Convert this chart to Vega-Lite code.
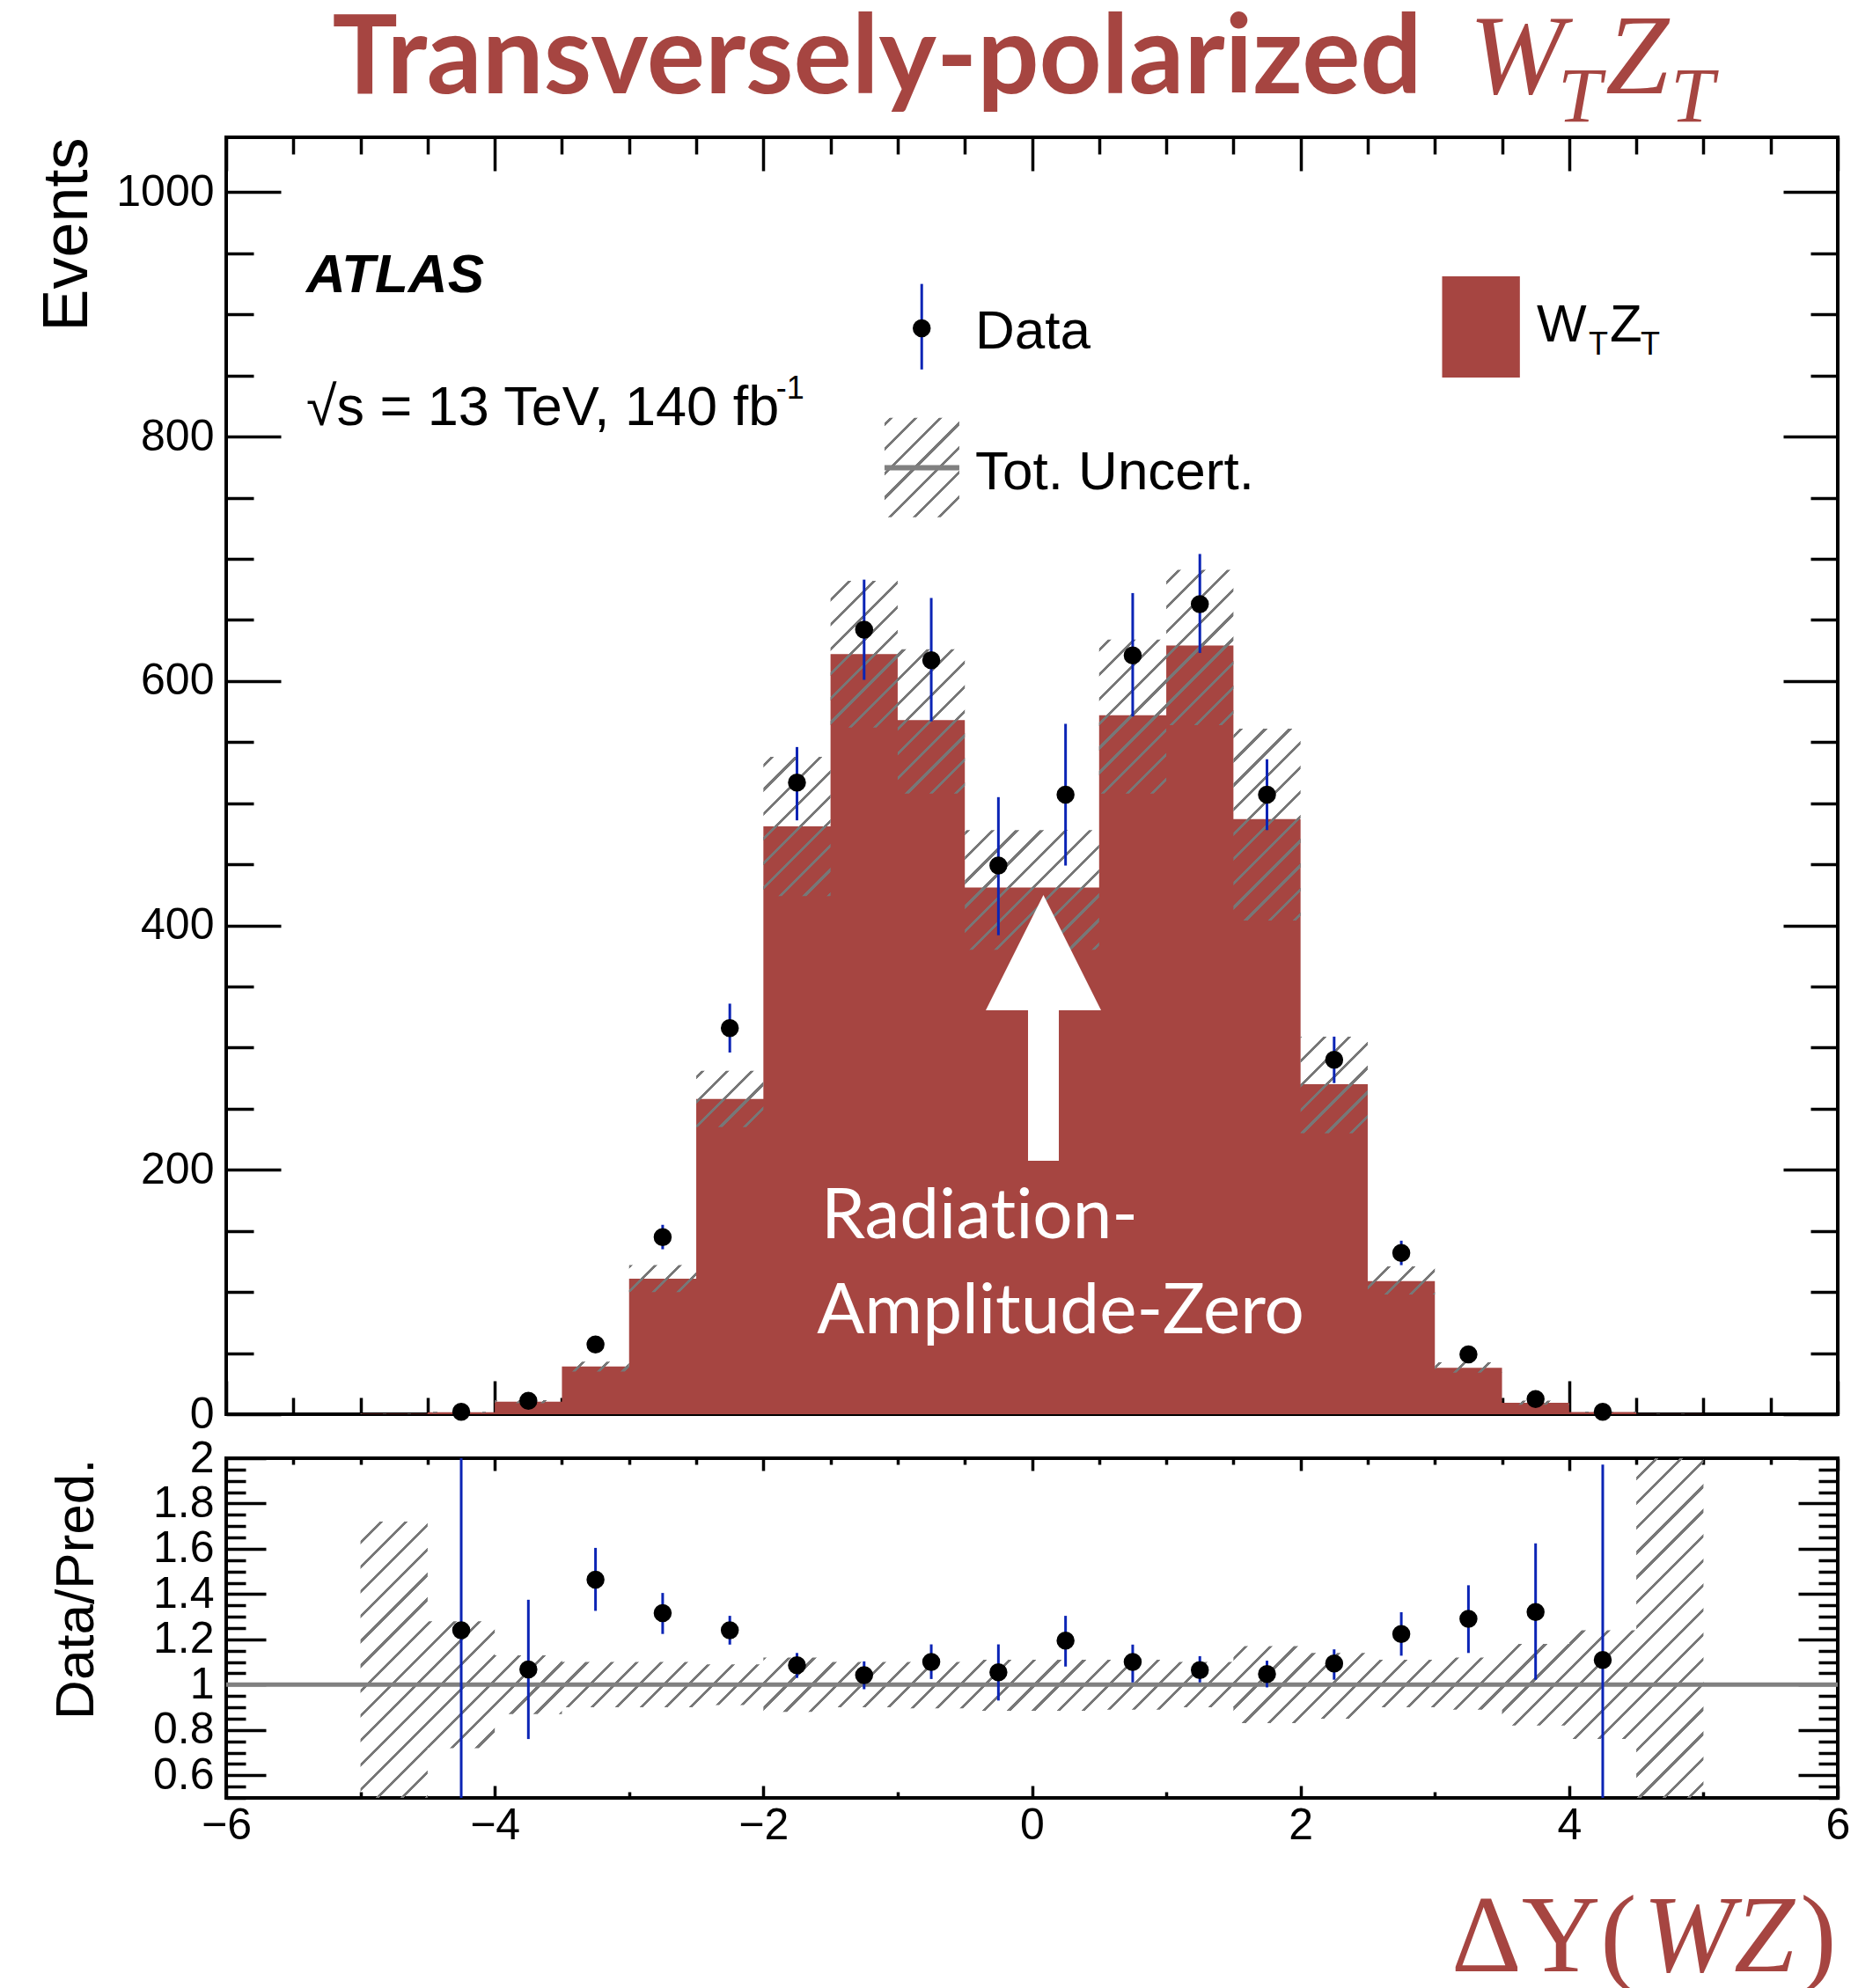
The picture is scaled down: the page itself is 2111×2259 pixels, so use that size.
{
  "$schema": "https://vega.github.io/schema/vega-lite/v6.json",
  "background": "white",
  "autosize": {"type": "pad"},
  "padding": {"left": 38, "top": 0, "right": 0, "bottom": 0},
  "datasets": {
    "edges": [
      {"edge": -5, "pred": 0.3, "b_lo": 0.1, "b_hi": 0.5, "rb_lo": 0.5, "rb_hi": 1.72},
      {"edge": -4.5, "pred": 1.6, "b_lo": 1.15, "b_hi": 2.05, "rb_lo": 0.72, "rb_hi": 1.28},
      {"edge": -4, "pred": 10.3, "b_lo": 9.0, "b_hi": 11.6, "rb_lo": 0.87, "rb_hi": 1.13},
      {"edge": -3.5, "pred": 39, "b_lo": 35, "b_hi": 43, "rb_lo": 0.9, "rb_hi": 1.1},
      {"edge": -3, "pred": 111, "b_lo": 100, "b_hi": 122, "rb_lo": 0.9, "rb_hi": 1.1},
      {"edge": -2.5, "pred": 258, "b_lo": 235, "b_hi": 281, "rb_lo": 0.91, "rb_hi": 1.09},
      {"edge": -2, "pred": 481, "b_lo": 424, "b_hi": 538, "rb_lo": 0.88, "rb_hi": 1.12},
      {"edge": -1.5, "pred": 622, "b_lo": 562, "b_hi": 682, "rb_lo": 0.9, "rb_hi": 1.1},
      {"edge": -1, "pred": 568, "b_lo": 508, "b_hi": 626, "rb_lo": 0.895, "rb_hi": 1.1},
      {"edge": -0.5, "pred": 431, "b_lo": 380, "b_hi": 478, "rb_lo": 0.885, "rb_hi": 1.11},
      {"edge": 0, "pred": 431, "b_lo": 380, "b_hi": 478, "rb_lo": 0.885, "rb_hi": 1.11},
      {"edge": 0.5, "pred": 572, "b_lo": 508, "b_hi": 634, "rb_lo": 0.89, "rb_hi": 1.11},
      {"edge": 1, "pred": 629, "b_lo": 564, "b_hi": 691, "rb_lo": 0.9, "rb_hi": 1.1},
      {"edge": 1.5, "pred": 487, "b_lo": 404, "b_hi": 561, "rb_lo": 0.83, "rb_hi": 1.17},
      {"edge": 2, "pred": 270, "b_lo": 230, "b_hi": 309, "rb_lo": 0.85, "rb_hi": 1.14},
      {"edge": 2.5, "pred": 109, "b_lo": 98, "b_hi": 121, "rb_lo": 0.9, "rb_hi": 1.11},
      {"edge": 3, "pred": 38, "b_lo": 34, "b_hi": 42.5, "rb_lo": 0.89, "rb_hi": 1.12},
      {"edge": 3.5, "pred": 9.4, "b_lo": 7.7, "b_hi": 11.1, "rb_lo": 0.82, "rb_hi": 1.18},
      {"edge": 4, "pred": 1.8, "b_lo": 1.37, "b_hi": 2.23, "rb_lo": 0.76, "rb_hi": 1.24},
      {"edge": 4.5, "pred": 0.2, "b_lo": 0.05, "b_hi": 0.4, "rb_lo": 0.5, "rb_hi": 2.0},
      {"edge": 5, "pred": 0.2, "b_lo": 0.05, "b_hi": 0.4, "rb_lo": 0.5, "rb_hi": 2.0}
    ],
    "points": [
      {"x": -4.25, "n": 2, "n_lo": 0.6, "n_hi": 3.4, "r": 1.24, "r_lo": 0.35, "r_hi": 2.15},
      {"x": -3.75, "n": 11, "n_lo": 7.7, "n_hi": 14.3, "r": 1.067, "r_lo": 0.76, "r_hi": 1.375},
      {"x": -3.25, "n": 57, "n_lo": 51.5, "n_hi": 62.5, "r": 1.464, "r_lo": 1.326, "r_hi": 1.604},
      {"x": -2.75, "n": 145, "n_lo": 135, "n_hi": 155, "r": 1.316, "r_lo": 1.224, "r_hi": 1.405},
      {"x": -2.25, "n": 316, "n_lo": 296, "n_hi": 336, "r": 1.24, "r_lo": 1.177, "r_hi": 1.304},
      {"x": -1.75, "n": 517, "n_lo": 486, "n_hi": 546, "r": 1.086, "r_lo": 1.03, "r_hi": 1.14},
      {"x": -1.25, "n": 642, "n_lo": 601, "n_hi": 683, "r": 1.042, "r_lo": 0.98, "r_hi": 1.103},
      {"x": -0.75, "n": 617, "n_lo": 567, "n_hi": 668, "r": 1.1, "r_lo": 1.025, "r_hi": 1.178},
      {"x": -0.25, "n": 449, "n_lo": 392, "n_hi": 505, "r": 1.055, "r_lo": 0.93, "r_hi": 1.178},
      {"x": 0.25, "n": 507, "n_lo": 449, "n_hi": 565, "r": 1.195, "r_lo": 1.08, "r_hi": 1.304},
      {"x": 0.75, "n": 621, "n_lo": 571, "n_hi": 672, "r": 1.1, "r_lo": 1.01, "r_hi": 1.177},
      {"x": 1.25, "n": 663, "n_lo": 623, "n_hi": 704, "r": 1.064, "r_lo": 1.01, "r_hi": 1.126},
      {"x": 1.75, "n": 507, "n_lo": 478, "n_hi": 536, "r": 1.047, "r_lo": 0.988, "r_hi": 1.106},
      {"x": 2.25, "n": 290, "n_lo": 271, "n_hi": 309, "r": 1.094, "r_lo": 1.022, "r_hi": 1.156},
      {"x": 2.75, "n": 132, "n_lo": 122, "n_hi": 142, "r": 1.224, "r_lo": 1.128, "r_hi": 1.32},
      {"x": 3.25, "n": 49, "n_lo": 43.4, "n_hi": 54.6, "r": 1.291, "r_lo": 1.14, "r_hi": 1.439},
      {"x": 3.75, "n": 12.4, "n_lo": 9.6, "n_hi": 15.2, "r": 1.321, "r_lo": 1.022, "r_hi": 1.624},
      {"x": 4.25, "n": 2, "n_lo": 0.6, "n_hi": 3.4, "r": 1.109, "r_lo": 0.35, "r_hi": 1.972}
    ],
    "one": [{}]
  },
  "spacing": 50,
  "bounds": "flush",
  "vconcat": [
    {
      "width": 1831,
      "height": 1451,
      "layer": [
        {
          "data": {"name": "edges"},
          "mark": {"type": "area", "interpolate": "step-after", "color": "#a64541", "opacity": 1},
          "encoding": {
            "x": {"field": "edge", "type": "quantitative", "scale": {"domain": [-6, 6], "nice": false, "zero": false},
              "axis": {"orient": "bottom", "values": [-6,-5.5,-5,-4.5,-4,-3.5,-3,-2.5,-2,-1.5,-1,-0.5,0,0.5,1,1.5,2,2.5,3,3.5,4,4.5,5,5.5,6], "labels": false, "title": null,
                "tickSize": {"condition": {"test": "datum.value % 2 === 0", "value": -38}, "value": -19}}},
            "y": {"field": "pred", "type": "quantitative", "stack": null, "scale": {"domain": [0, 1045], "nice": false, "zero": false},
              "axis": {"orient": "left", "values": [0,50,100,150,200,250,300,350,400,450,500,550,600,650,700,750,800,850,900,950,1000], "format": "d",
                "labelExpr": "datum.value % 200 === 0 ? datum.label : ''", "labelPadding": 76,
                "tickSize": {"condition": {"test": "datum.value % 200 === 0", "value": -62}, "value": -31},
                "title": "Events", "titleFontSize": 72, "titleAnchor": "end", "titlePadding": 18}},
            "y2": {"datum": 0}
          }
        },
        {
          "data": {"name": "edges"},
          "mark": {"type": "area", "interpolate": "step-after", "opacity": 1,
            "fill": {"gradient": "linear", "x1": 0, "y1": 0, "x2": 1.16728, "y2": 0.73397, "stops": [
              {"offset":0.0040,"color":"transparent"},{"offset":0.0040,"color":"#777"},{"offset":0.0057,"color":"#777"},{"offset":0.0057,"color":"transparent"},
              {"offset":0.0152,"color":"transparent"},{"offset":0.0152,"color":"#777"},{"offset":0.0169,"color":"#777"},{"offset":0.0169,"color":"transparent"},
              {"offset":0.0264,"color":"transparent"},{"offset":0.0264,"color":"#777"},{"offset":0.0281,"color":"#777"},{"offset":0.0281,"color":"transparent"},
              {"offset":0.0376,"color":"transparent"},{"offset":0.0376,"color":"#777"},{"offset":0.0393,"color":"#777"},{"offset":0.0393,"color":"transparent"},
              {"offset":0.0488,"color":"transparent"},{"offset":0.0488,"color":"#777"},{"offset":0.0505,"color":"#777"},{"offset":0.0505,"color":"transparent"},
              {"offset":0.0600,"color":"transparent"},{"offset":0.0600,"color":"#777"},{"offset":0.0617,"color":"#777"},{"offset":0.0617,"color":"transparent"},
              {"offset":0.0712,"color":"transparent"},{"offset":0.0712,"color":"#777"},{"offset":0.0729,"color":"#777"},{"offset":0.0729,"color":"transparent"},
              {"offset":0.0824,"color":"transparent"},{"offset":0.0824,"color":"#777"},{"offset":0.0841,"color":"#777"},{"offset":0.0841,"color":"transparent"},
              {"offset":0.0936,"color":"transparent"},{"offset":0.0936,"color":"#777"},{"offset":0.0953,"color":"#777"},{"offset":0.0953,"color":"transparent"},
              {"offset":0.1048,"color":"transparent"},{"offset":0.1048,"color":"#777"},{"offset":0.1065,"color":"#777"},{"offset":0.1065,"color":"transparent"},
              {"offset":0.1160,"color":"transparent"},{"offset":0.1160,"color":"#777"},{"offset":0.1177,"color":"#777"},{"offset":0.1177,"color":"transparent"},
              {"offset":0.1272,"color":"transparent"},{"offset":0.1272,"color":"#777"},{"offset":0.1289,"color":"#777"},{"offset":0.1289,"color":"transparent"},
              {"offset":0.1384,"color":"transparent"},{"offset":0.1384,"color":"#777"},{"offset":0.1401,"color":"#777"},{"offset":0.1401,"color":"transparent"},
              {"offset":0.1496,"color":"transparent"},{"offset":0.1496,"color":"#777"},{"offset":0.1513,"color":"#777"},{"offset":0.1513,"color":"transparent"},
              {"offset":0.1608,"color":"transparent"},{"offset":0.1608,"color":"#777"},{"offset":0.1625,"color":"#777"},{"offset":0.1625,"color":"transparent"},
              {"offset":0.1720,"color":"transparent"},{"offset":0.1720,"color":"#777"},{"offset":0.1737,"color":"#777"},{"offset":0.1737,"color":"transparent"},
              {"offset":0.1832,"color":"transparent"},{"offset":0.1832,"color":"#777"},{"offset":0.1849,"color":"#777"},{"offset":0.1849,"color":"transparent"},
              {"offset":0.1944,"color":"transparent"},{"offset":0.1944,"color":"#777"},{"offset":0.1961,"color":"#777"},{"offset":0.1961,"color":"transparent"},
              {"offset":0.2056,"color":"transparent"},{"offset":0.2056,"color":"#777"},{"offset":0.2073,"color":"#777"},{"offset":0.2073,"color":"transparent"},
              {"offset":0.2168,"color":"transparent"},{"offset":0.2168,"color":"#777"},{"offset":0.2185,"color":"#777"},{"offset":0.2185,"color":"transparent"},
              {"offset":0.2280,"color":"transparent"},{"offset":0.2280,"color":"#777"},{"offset":0.2297,"color":"#777"},{"offset":0.2297,"color":"transparent"},
              {"offset":0.2392,"color":"transparent"},{"offset":0.2392,"color":"#777"},{"offset":0.2409,"color":"#777"},{"offset":0.2409,"color":"transparent"},
              {"offset":0.2504,"color":"transparent"},{"offset":0.2504,"color":"#777"},{"offset":0.2521,"color":"#777"},{"offset":0.2521,"color":"transparent"},
              {"offset":0.2616,"color":"transparent"},{"offset":0.2616,"color":"#777"},{"offset":0.2633,"color":"#777"},{"offset":0.2633,"color":"transparent"},
              {"offset":0.2728,"color":"transparent"},{"offset":0.2728,"color":"#777"},{"offset":0.2745,"color":"#777"},{"offset":0.2745,"color":"transparent"},
              {"offset":0.2840,"color":"transparent"},{"offset":0.2840,"color":"#777"},{"offset":0.2857,"color":"#777"},{"offset":0.2857,"color":"transparent"},
              {"offset":0.2952,"color":"transparent"},{"offset":0.2952,"color":"#777"},{"offset":0.2969,"color":"#777"},{"offset":0.2969,"color":"transparent"},
              {"offset":0.3064,"color":"transparent"},{"offset":0.3064,"color":"#777"},{"offset":0.3081,"color":"#777"},{"offset":0.3081,"color":"transparent"},
              {"offset":0.3176,"color":"transparent"},{"offset":0.3176,"color":"#777"},{"offset":0.3193,"color":"#777"},{"offset":0.3193,"color":"transparent"},
              {"offset":0.3288,"color":"transparent"},{"offset":0.3288,"color":"#777"},{"offset":0.3305,"color":"#777"},{"offset":0.3305,"color":"transparent"},
              {"offset":0.3400,"color":"transparent"},{"offset":0.3400,"color":"#777"},{"offset":0.3417,"color":"#777"},{"offset":0.3417,"color":"transparent"},
              {"offset":0.3512,"color":"transparent"},{"offset":0.3512,"color":"#777"},{"offset":0.3529,"color":"#777"},{"offset":0.3529,"color":"transparent"},
              {"offset":0.3624,"color":"transparent"},{"offset":0.3624,"color":"#777"},{"offset":0.3641,"color":"#777"},{"offset":0.3641,"color":"transparent"},
              {"offset":0.3736,"color":"transparent"},{"offset":0.3736,"color":"#777"},{"offset":0.3753,"color":"#777"},{"offset":0.3753,"color":"transparent"},
              {"offset":0.3848,"color":"transparent"},{"offset":0.3848,"color":"#777"},{"offset":0.3865,"color":"#777"},{"offset":0.3865,"color":"transparent"},
              {"offset":0.3960,"color":"transparent"},{"offset":0.3960,"color":"#777"},{"offset":0.3977,"color":"#777"},{"offset":0.3977,"color":"transparent"},
              {"offset":0.4072,"color":"transparent"},{"offset":0.4072,"color":"#777"},{"offset":0.4089,"color":"#777"},{"offset":0.4089,"color":"transparent"},
              {"offset":0.4184,"color":"transparent"},{"offset":0.4184,"color":"#777"},{"offset":0.4201,"color":"#777"},{"offset":0.4201,"color":"transparent"},
              {"offset":0.4296,"color":"transparent"},{"offset":0.4296,"color":"#777"},{"offset":0.4313,"color":"#777"},{"offset":0.4313,"color":"transparent"},
              {"offset":0.4408,"color":"transparent"},{"offset":0.4408,"color":"#777"},{"offset":0.4425,"color":"#777"},{"offset":0.4425,"color":"transparent"},
              {"offset":0.4520,"color":"transparent"},{"offset":0.4520,"color":"#777"},{"offset":0.4537,"color":"#777"},{"offset":0.4537,"color":"transparent"},
              {"offset":0.4632,"color":"transparent"},{"offset":0.4632,"color":"#777"},{"offset":0.4649,"color":"#777"},{"offset":0.4649,"color":"transparent"},
              {"offset":0.4744,"color":"transparent"},{"offset":0.4744,"color":"#777"},{"offset":0.4761,"color":"#777"},{"offset":0.4761,"color":"transparent"},
              {"offset":0.4856,"color":"transparent"},{"offset":0.4856,"color":"#777"},{"offset":0.4873,"color":"#777"},{"offset":0.4873,"color":"transparent"},
              {"offset":0.4968,"color":"transparent"},{"offset":0.4968,"color":"#777"},{"offset":0.4985,"color":"#777"},{"offset":0.4985,"color":"transparent"},
              {"offset":0.5080,"color":"transparent"},{"offset":0.5080,"color":"#777"},{"offset":0.5097,"color":"#777"},{"offset":0.5097,"color":"transparent"},
              {"offset":0.5192,"color":"transparent"},{"offset":0.5192,"color":"#777"},{"offset":0.5209,"color":"#777"},{"offset":0.5209,"color":"transparent"},
              {"offset":0.5304,"color":"transparent"},{"offset":0.5304,"color":"#777"},{"offset":0.5321,"color":"#777"},{"offset":0.5321,"color":"transparent"},
              {"offset":0.5416,"color":"transparent"},{"offset":0.5416,"color":"#777"},{"offset":0.5433,"color":"#777"},{"offset":0.5433,"color":"transparent"},
              {"offset":0.5528,"color":"transparent"},{"offset":0.5528,"color":"#777"},{"offset":0.5545,"color":"#777"},{"offset":0.5545,"color":"transparent"},
              {"offset":0.5640,"color":"transparent"},{"offset":0.5640,"color":"#777"},{"offset":0.5657,"color":"#777"},{"offset":0.5657,"color":"transparent"},
              {"offset":0.5752,"color":"transparent"},{"offset":0.5752,"color":"#777"},{"offset":0.5769,"color":"#777"},{"offset":0.5769,"color":"transparent"},
              {"offset":0.5864,"color":"transparent"},{"offset":0.5864,"color":"#777"},{"offset":0.5881,"color":"#777"},{"offset":0.5881,"color":"transparent"},
              {"offset":0.5976,"color":"transparent"},{"offset":0.5976,"color":"#777"},{"offset":0.5993,"color":"#777"},{"offset":0.5993,"color":"transparent"},
              {"offset":0.6088,"color":"transparent"},{"offset":0.6088,"color":"#777"},{"offset":0.6105,"color":"#777"},{"offset":0.6105,"color":"transparent"},
              {"offset":0.6200,"color":"transparent"},{"offset":0.6200,"color":"#777"},{"offset":0.6217,"color":"#777"},{"offset":0.6217,"color":"transparent"},
              {"offset":0.6312,"color":"transparent"},{"offset":0.6312,"color":"#777"},{"offset":0.6329,"color":"#777"},{"offset":0.6329,"color":"transparent"},
              {"offset":0.6424,"color":"transparent"},{"offset":0.6424,"color":"#777"},{"offset":0.6441,"color":"#777"},{"offset":0.6441,"color":"transparent"},
              {"offset":0.6536,"color":"transparent"},{"offset":0.6536,"color":"#777"},{"offset":0.6553,"color":"#777"},{"offset":0.6553,"color":"transparent"},
              {"offset":0.6648,"color":"transparent"},{"offset":0.6648,"color":"#777"},{"offset":0.6665,"color":"#777"},{"offset":0.6665,"color":"transparent"},
              {"offset":0.6760,"color":"transparent"},{"offset":0.6760,"color":"#777"},{"offset":0.6777,"color":"#777"},{"offset":0.6777,"color":"transparent"},
              {"offset":0.6872,"color":"transparent"},{"offset":0.6872,"color":"#777"},{"offset":0.6889,"color":"#777"},{"offset":0.6889,"color":"transparent"},
              {"offset":0.6984,"color":"transparent"},{"offset":0.6984,"color":"#777"},{"offset":0.7001,"color":"#777"},{"offset":0.7001,"color":"transparent"},
              {"offset":0.7096,"color":"transparent"},{"offset":0.7096,"color":"#777"},{"offset":0.7113,"color":"#777"},{"offset":0.7113,"color":"transparent"},
              {"offset":0.7208,"color":"transparent"},{"offset":0.7208,"color":"#777"},{"offset":0.7225,"color":"#777"},{"offset":0.7225,"color":"transparent"},
              {"offset":0.7320,"color":"transparent"},{"offset":0.7320,"color":"#777"},{"offset":0.7337,"color":"#777"},{"offset":0.7337,"color":"transparent"},
              {"offset":0.7432,"color":"transparent"},{"offset":0.7432,"color":"#777"},{"offset":0.7449,"color":"#777"},{"offset":0.7449,"color":"transparent"},
              {"offset":0.7544,"color":"transparent"},{"offset":0.7544,"color":"#777"},{"offset":0.7561,"color":"#777"},{"offset":0.7561,"color":"transparent"},
              {"offset":0.7656,"color":"transparent"},{"offset":0.7656,"color":"#777"},{"offset":0.7673,"color":"#777"},{"offset":0.7673,"color":"transparent"},
              {"offset":0.7768,"color":"transparent"},{"offset":0.7768,"color":"#777"},{"offset":0.7785,"color":"#777"},{"offset":0.7785,"color":"transparent"},
              {"offset":0.7880,"color":"transparent"},{"offset":0.7880,"color":"#777"},{"offset":0.7897,"color":"#777"},{"offset":0.7897,"color":"transparent"},
              {"offset":0.7992,"color":"transparent"},{"offset":0.7992,"color":"#777"},{"offset":0.8009,"color":"#777"},{"offset":0.8009,"color":"transparent"},
              {"offset":0.8104,"color":"transparent"},{"offset":0.8104,"color":"#777"},{"offset":0.8121,"color":"#777"},{"offset":0.8121,"color":"transparent"},
              {"offset":0.8216,"color":"transparent"},{"offset":0.8216,"color":"#777"},{"offset":0.8233,"color":"#777"},{"offset":0.8233,"color":"transparent"},
              {"offset":0.8328,"color":"transparent"},{"offset":0.8328,"color":"#777"},{"offset":0.8345,"color":"#777"},{"offset":0.8345,"color":"transparent"},
              {"offset":0.8440,"color":"transparent"},{"offset":0.8440,"color":"#777"},{"offset":0.8457,"color":"#777"},{"offset":0.8457,"color":"transparent"},
              {"offset":0.8552,"color":"transparent"},{"offset":0.8552,"color":"#777"},{"offset":0.8569,"color":"#777"},{"offset":0.8569,"color":"transparent"},
              {"offset":0.8664,"color":"transparent"},{"offset":0.8664,"color":"#777"},{"offset":0.8681,"color":"#777"},{"offset":0.8681,"color":"transparent"},
              {"offset":0.8776,"color":"transparent"},{"offset":0.8776,"color":"#777"},{"offset":0.8793,"color":"#777"},{"offset":0.8793,"color":"transparent"},
              {"offset":0.8888,"color":"transparent"},{"offset":0.8888,"color":"#777"},{"offset":0.8905,"color":"#777"},{"offset":0.8905,"color":"transparent"},
              {"offset":0.9000,"color":"transparent"},{"offset":0.9000,"color":"#777"},{"offset":0.9017,"color":"#777"},{"offset":0.9017,"color":"transparent"},
              {"offset":0.9112,"color":"transparent"},{"offset":0.9112,"color":"#777"},{"offset":0.9129,"color":"#777"},{"offset":0.9129,"color":"transparent"},
              {"offset":0.9224,"color":"transparent"},{"offset":0.9224,"color":"#777"},{"offset":0.9241,"color":"#777"},{"offset":0.9241,"color":"transparent"},
              {"offset":0.9336,"color":"transparent"},{"offset":0.9336,"color":"#777"},{"offset":0.9353,"color":"#777"},{"offset":0.9353,"color":"transparent"},
              {"offset":0.9448,"color":"transparent"},{"offset":0.9448,"color":"#777"},{"offset":0.9465,"color":"#777"},{"offset":0.9465,"color":"transparent"},
              {"offset":0.9560,"color":"transparent"},{"offset":0.9560,"color":"#777"},{"offset":0.9577,"color":"#777"},{"offset":0.9577,"color":"transparent"},
              {"offset":0.9672,"color":"transparent"},{"offset":0.9672,"color":"#777"},{"offset":0.9689,"color":"#777"},{"offset":0.9689,"color":"transparent"},
              {"offset":0.9784,"color":"transparent"},{"offset":0.9784,"color":"#777"},{"offset":0.9801,"color":"#777"},{"offset":0.9801,"color":"transparent"},
              {"offset":0.9896,"color":"transparent"},{"offset":0.9896,"color":"#777"},{"offset":0.9913,"color":"#777"},{"offset":0.9913,"color":"transparent"}
            ]}},
          "encoding": {
            "x": {"field": "edge", "type": "quantitative", "axis": null},
            "y": {"field": "b_hi", "type": "quantitative", "axis": null},
            "y2": {"field": "b_lo"}
          }
        },
        {
          "data": {"name": "points"},
          "mark": {"type": "rule", "color": "#0b24b5", "strokeWidth": 3},
          "encoding": {
            "x": {"field": "x", "type": "quantitative", "axis": null},
            "y": {"field": "n_lo", "type": "quantitative", "axis": null},
            "y2": {"field": "n_hi"}
          }
        },
        {
          "data": {"name": "points"},
          "mark": {"type": "point", "shape": "circle", "filled": true, "size": 420, "color": "black", "opacity": 1},
          "encoding": {
            "x": {"field": "x", "type": "quantitative",
              "axis": {"orient": "top", "values": [-6,-5.5,-5,-4.5,-4,-3.5,-3,-2.5,-2,-1.5,-1,-0.5,0,0.5,1,1.5,2,2.5,3,3.5,4,4.5,5,5.5,6], "labels": false, "title": null,
                "tickSize": {"condition": {"test": "datum.value % 2 === 0", "value": -38}, "value": -19}}},
            "y": {"field": "n", "type": "quantitative",
              "axis": {"orient": "right", "values": [0,50,100,150,200,250,300,350,400,450,500,550,600,650,700,750,800,850,900,950,1000], "labels": false, "title": null,
                "tickSize": {"condition": {"test": "datum.value % 200 === 0", "value": -62}, "value": -31}}}
          }
        },
        {
          "data": {"name": "one"},
          "mark": {"type": "rule", "color": "white", "strokeWidth": 35, "strokeCap": "butt"},
          "encoding": {
            "x": {"datum": 0.0853, "type": "quantitative", "axis": null},
            "y": {"datum": 207.4, "type": "quantitative", "axis": null},
            "y2": {"datum": 335}
          }
        },
        {
          "data": {"name": "one"},
          "mark": {"type": "point", "shape": "M-1,1L0,-1L1,1Z", "filled": true, "size": 17161, "color": "white", "opacity": 1, "strokeWidth": 0},
          "encoding": {
            "x": {"datum": 0.0853, "type": "quantitative", "axis": null},
            "y": {"datum": 377.7, "type": "quantitative", "axis": null}
          }
        },
        {
          "data": {"name": "one"},
          "mark": {"type": "text", "text": "Radiat\u200cion-", "font": "Lato", "fontSize": 80, "color": "white", "align": "left", "baseline": "alphabetic"},
          "encoding": {"x": {"datum": -1.57, "type": "quantitative", "axis": null}, "y": {"datum": 144, "type": "quantitative", "axis": null}}
        },
        {
          "data": {"name": "one"},
          "mark": {"type": "text", "text": "Amplitude-Zero", "font": "Lato", "fontSize": 80, "color": "white", "align": "left", "baseline": "alphabetic"},
          "encoding": {"x": {"datum": -1.6, "type": "quantitative", "axis": null}, "y": {"datum": 66, "type": "quantitative", "axis": null}}
        },
        {
          "data": {"name": "one"},
          "mark": {"type": "text", "text": "ATLAS", "font": "Liberation Sans", "fontSize": 62, "fontWeight": "bold", "fontStyle": "italic", "color": "black", "align": "left", "baseline": "alphabetic"},
          "encoding": {"x": {"datum": -5.404, "type": "quantitative", "axis": null}, "y": {"datum": 917.9, "type": "quantitative", "axis": null}}
        },
        {
          "data": {"name": "one"},
          "mark": {"type": "text", "text": "√s = 13 TeV, 140 fb", "font": "Liberation Sans", "fontSize": 63, "color": "black", "align": "left", "baseline": "alphabetic"},
          "encoding": {"x": {"datum": -5.404, "type": "quantitative", "axis": null}, "y": {"datum": 809.5, "type": "quantitative", "axis": null}}
        },
        {
          "data": {"name": "one"},
          "mark": {"type": "text", "text": "-1", "font": "Liberation Sans", "fontSize": 36, "color": "black", "align": "left", "baseline": "alphabetic"},
          "encoding": {"x": {"datum": -1.905, "type": "quantitative", "axis": null}, "y": {"datum": 831.2, "type": "quantitative", "axis": null}}
        },
        {
          "data": {"name": "one"},
          "mark": {"type": "rule", "color": "#0b24b5", "strokeWidth": 3},
          "encoding": {
            "x": {"datum": -0.821, "type": "quantitative", "axis": null},
            "y": {"datum": 855, "type": "quantitative", "axis": null},
            "y2": {"datum": 925}
          }
        },
        {
          "data": {"name": "one"},
          "mark": {"type": "point", "shape": "circle", "filled": true, "size": 420, "color": "black", "opacity": 1},
          "encoding": {"x": {"datum": -0.821, "type": "quantitative", "axis": null}, "y": {"datum": 888.7, "type": "quantitative", "axis": null}}
        },
        {
          "data": {"name": "one"},
          "mark": {"type": "text", "text": "Data", "font": "Liberation Sans", "fontSize": 62, "color": "black", "align": "left", "baseline": "alphabetic"},
          "encoding": {"x": {"datum": -0.423, "type": "quantitative", "axis": null}, "y": {"datum": 871.9, "type": "quantitative", "axis": null}}
        },
        {
          "data": {"name": "one"},
          "mark": {"type": "rect", "strokeWidth": 0, "opacity": 1,
            "fill": {"gradient": "linear", "x1": 0, "y1": 0, "x2": 0.84176, "y2": 1.11904, "stops": [
              {"offset":0.03,"color":"transparent"},{"offset":0.03,"color":"#777"},{"offset":0.051,"color":"#777"},{"offset":0.051,"color":"transparent"},
              {"offset":0.17,"color":"transparent"},{"offset":0.17,"color":"#777"},{"offset":0.191,"color":"#777"},{"offset":0.191,"color":"transparent"},
              {"offset":0.31,"color":"transparent"},{"offset":0.31,"color":"#777"},{"offset":0.331,"color":"#777"},{"offset":0.331,"color":"transparent"},
              {"offset":0.45,"color":"transparent"},{"offset":0.45,"color":"#777"},{"offset":0.471,"color":"#777"},{"offset":0.471,"color":"transparent"},
              {"offset":0.59,"color":"transparent"},{"offset":0.59,"color":"#777"},{"offset":0.611,"color":"#777"},{"offset":0.611,"color":"transparent"},
              {"offset":0.73,"color":"transparent"},{"offset":0.73,"color":"#777"},{"offset":0.751,"color":"#777"},{"offset":0.751,"color":"transparent"},
              {"offset":0.87,"color":"transparent"},{"offset":0.87,"color":"#777"},{"offset":0.891,"color":"#777"},{"offset":0.891,"color":"transparent"}
            ]}},
          "encoding": {
            "x": {"datum": -1.098, "type": "quantitative", "axis": null},
            "x2": {"datum": -0.541},
            "y": {"datum": 734, "type": "quantitative", "axis": null},
            "y2": {"datum": 815.4}
          }
        },
        {
          "data": {"name": "one"},
          "mark": {"type": "rule", "color": "#808080", "strokeWidth": 6},
          "encoding": {
            "x": {"datum": -1.098, "type": "quantitative", "axis": null},
            "x2": {"datum": -0.541},
            "y": {"datum": 774.6, "type": "quantitative", "axis": null}
          }
        },
        {
          "data": {"name": "one"},
          "mark": {"type": "text", "text": "Tot. Uncert.", "font": "Liberation Sans", "fontSize": 62, "color": "black", "align": "left", "baseline": "alphabetic"},
          "encoding": {"x": {"datum": -0.423, "type": "quantitative", "axis": null}, "y": {"datum": 756.6, "type": "quantitative", "axis": null}}
        },
        {
          "data": {"name": "one"},
          "mark": {"type": "rect", "color": "#a64541", "opacity": 1},
          "encoding": {
            "x": {"datum": 3.054, "type": "quantitative", "axis": null},
            "x2": {"datum": 3.633},
            "y": {"datum": 848.4, "type": "quantitative", "axis": null},
            "y2": {"datum": 931.2}
          }
        },
        {
          "data": {"name": "one"},
          "mark": {"type": "text", "text": "W", "font": "Liberation Sans", "fontSize": 60, "color": "black", "align": "left", "baseline": "alphabetic"},
          "encoding": {"x": {"datum": 3.759, "type": "quantitative", "axis": null}, "y": {"datum": 878.1, "type": "quantitative", "axis": null}}
        },
        {
          "data": {"name": "one"},
          "mark": {"type": "text", "text": "T", "font": "Liberation Sans", "fontSize": 36, "color": "black", "align": "left", "baseline": "alphabetic"},
          "encoding": {"x": {"datum": 4.146, "type": "quantitative", "axis": null}, "y": {"datum": 867.3, "type": "quantitative", "axis": null}}
        },
        {
          "data": {"name": "one"},
          "mark": {"type": "text", "text": "Z", "font": "Liberation Sans", "fontSize": 60, "color": "black", "align": "left", "baseline": "alphabetic"},
          "encoding": {"x": {"datum": 4.303, "type": "quantitative", "axis": null}, "y": {"datum": 878.1, "type": "quantitative", "axis": null}}
        },
        {
          "data": {"name": "one"},
          "mark": {"type": "text", "text": "T", "font": "Liberation Sans", "fontSize": 36, "color": "black", "align": "left", "baseline": "alphabetic"},
          "encoding": {"x": {"datum": 4.532, "type": "quantitative", "axis": null}, "y": {"datum": 867.3, "type": "quantitative", "axis": null}}
        },
        {
          "data": {"name": "one"},
          "mark": {"type": "text", "text": "Transversely-polarized", "font": "Lato", "fontWeight": "bold", "fontSize": 124, "color": "#a64541", "align": "left", "baseline": "alphabetic"},
          "encoding": {"x": {"datum": -5.21, "type": "quantitative", "axis": null}, "y": {"datum": 1080.8, "type": "quantitative", "axis": null}}
        },
        {
          "data": {"name": "one"},
          "mark": {"type": "text", "text": "W", "font": "Liberation Serif", "fontStyle": "italic", "fontSize": 130, "color": "#a64541", "align": "left", "baseline": "alphabetic"},
          "encoding": {"x": {"datum": 3.254, "type": "quantitative", "axis": null}, "y": {"datum": 1080.8, "type": "quantitative", "axis": null}}
        },
        {
          "data": {"name": "one"},
          "mark": {"type": "text", "text": "T", "font": "Liberation Serif", "fontStyle": "italic", "fontSize": 89, "color": "#a64541", "align": "left", "baseline": "alphabetic"},
          "encoding": {"x": {"datum": 3.916, "type": "quantitative", "axis": null}, "y": {"datum": 1057.8, "type": "quantitative", "axis": null}}
        },
        {
          "data": {"name": "one"},
          "mark": {"type": "text", "text": "Z", "font": "Liberation Serif", "fontStyle": "italic", "fontSize": 130, "color": "#a64541", "align": "left", "baseline": "alphabetic"},
          "encoding": {"x": {"datum": 4.27, "type": "quantitative", "axis": null}, "y": {"datum": 1080.8, "type": "quantitative", "axis": null}}
        },
        {
          "data": {"name": "one"},
          "mark": {"type": "text", "text": "T", "font": "Liberation Serif", "fontStyle": "italic", "fontSize": 89, "color": "#a64541", "align": "left", "baseline": "alphabetic"},
          "encoding": {"x": {"datum": 4.755, "type": "quantitative", "axis": null}, "y": {"datum": 1057.8, "type": "quantitative", "axis": null}}
        }
      ],
      "resolve": {"axis": {"x": "independent", "y": "independent"}}
    },
    {
      "width": 1831,
      "height": 386,
      "layer": [
        {
          "data": {"name": "edges"},
          "mark": {"type": "area", "interpolate": "step-after", "opacity": 1,
            "fill": {"gradient": "linear", "x1": 0, "y1": 0, "x2": 1.17762, "y2": 0.29791, "stops": [
              {"offset":0.0050,"color":"transparent"},{"offset":0.0050,"color":"#777"},{"offset":0.0072,"color":"#777"},{"offset":0.0072,"color":"transparent"},
              {"offset":0.0197,"color":"transparent"},{"offset":0.0197,"color":"#777"},{"offset":0.0219,"color":"#777"},{"offset":0.0219,"color":"transparent"},
              {"offset":0.0344,"color":"transparent"},{"offset":0.0344,"color":"#777"},{"offset":0.0366,"color":"#777"},{"offset":0.0366,"color":"transparent"},
              {"offset":0.0491,"color":"transparent"},{"offset":0.0491,"color":"#777"},{"offset":0.0513,"color":"#777"},{"offset":0.0513,"color":"transparent"},
              {"offset":0.0638,"color":"transparent"},{"offset":0.0638,"color":"#777"},{"offset":0.0660,"color":"#777"},{"offset":0.0660,"color":"transparent"},
              {"offset":0.0785,"color":"transparent"},{"offset":0.0785,"color":"#777"},{"offset":0.0807,"color":"#777"},{"offset":0.0807,"color":"transparent"},
              {"offset":0.0932,"color":"transparent"},{"offset":0.0932,"color":"#777"},{"offset":0.0954,"color":"#777"},{"offset":0.0954,"color":"transparent"},
              {"offset":0.1079,"color":"transparent"},{"offset":0.1079,"color":"#777"},{"offset":0.1101,"color":"#777"},{"offset":0.1101,"color":"transparent"},
              {"offset":0.1226,"color":"transparent"},{"offset":0.1226,"color":"#777"},{"offset":0.1248,"color":"#777"},{"offset":0.1248,"color":"transparent"},
              {"offset":0.1373,"color":"transparent"},{"offset":0.1373,"color":"#777"},{"offset":0.1395,"color":"#777"},{"offset":0.1395,"color":"transparent"},
              {"offset":0.1520,"color":"transparent"},{"offset":0.1520,"color":"#777"},{"offset":0.1542,"color":"#777"},{"offset":0.1542,"color":"transparent"},
              {"offset":0.1667,"color":"transparent"},{"offset":0.1667,"color":"#777"},{"offset":0.1689,"color":"#777"},{"offset":0.1689,"color":"transparent"},
              {"offset":0.1814,"color":"transparent"},{"offset":0.1814,"color":"#777"},{"offset":0.1836,"color":"#777"},{"offset":0.1836,"color":"transparent"},
              {"offset":0.1961,"color":"transparent"},{"offset":0.1961,"color":"#777"},{"offset":0.1983,"color":"#777"},{"offset":0.1983,"color":"transparent"},
              {"offset":0.2108,"color":"transparent"},{"offset":0.2108,"color":"#777"},{"offset":0.2130,"color":"#777"},{"offset":0.2130,"color":"transparent"},
              {"offset":0.2255,"color":"transparent"},{"offset":0.2255,"color":"#777"},{"offset":0.2277,"color":"#777"},{"offset":0.2277,"color":"transparent"},
              {"offset":0.2402,"color":"transparent"},{"offset":0.2402,"color":"#777"},{"offset":0.2424,"color":"#777"},{"offset":0.2424,"color":"transparent"},
              {"offset":0.2549,"color":"transparent"},{"offset":0.2549,"color":"#777"},{"offset":0.2571,"color":"#777"},{"offset":0.2571,"color":"transparent"},
              {"offset":0.2696,"color":"transparent"},{"offset":0.2696,"color":"#777"},{"offset":0.2718,"color":"#777"},{"offset":0.2718,"color":"transparent"},
              {"offset":0.2843,"color":"transparent"},{"offset":0.2843,"color":"#777"},{"offset":0.2865,"color":"#777"},{"offset":0.2865,"color":"transparent"},
              {"offset":0.2990,"color":"transparent"},{"offset":0.2990,"color":"#777"},{"offset":0.3012,"color":"#777"},{"offset":0.3012,"color":"transparent"},
              {"offset":0.3137,"color":"transparent"},{"offset":0.3137,"color":"#777"},{"offset":0.3159,"color":"#777"},{"offset":0.3159,"color":"transparent"},
              {"offset":0.3284,"color":"transparent"},{"offset":0.3284,"color":"#777"},{"offset":0.3306,"color":"#777"},{"offset":0.3306,"color":"transparent"},
              {"offset":0.3431,"color":"transparent"},{"offset":0.3431,"color":"#777"},{"offset":0.3453,"color":"#777"},{"offset":0.3453,"color":"transparent"},
              {"offset":0.3578,"color":"transparent"},{"offset":0.3578,"color":"#777"},{"offset":0.3600,"color":"#777"},{"offset":0.3600,"color":"transparent"},
              {"offset":0.3725,"color":"transparent"},{"offset":0.3725,"color":"#777"},{"offset":0.3747,"color":"#777"},{"offset":0.3747,"color":"transparent"},
              {"offset":0.3872,"color":"transparent"},{"offset":0.3872,"color":"#777"},{"offset":0.3894,"color":"#777"},{"offset":0.3894,"color":"transparent"},
              {"offset":0.4019,"color":"transparent"},{"offset":0.4019,"color":"#777"},{"offset":0.4041,"color":"#777"},{"offset":0.4041,"color":"transparent"},
              {"offset":0.4166,"color":"transparent"},{"offset":0.4166,"color":"#777"},{"offset":0.4188,"color":"#777"},{"offset":0.4188,"color":"transparent"},
              {"offset":0.4313,"color":"transparent"},{"offset":0.4313,"color":"#777"},{"offset":0.4335,"color":"#777"},{"offset":0.4335,"color":"transparent"},
              {"offset":0.4460,"color":"transparent"},{"offset":0.4460,"color":"#777"},{"offset":0.4482,"color":"#777"},{"offset":0.4482,"color":"transparent"},
              {"offset":0.4607,"color":"transparent"},{"offset":0.4607,"color":"#777"},{"offset":0.4629,"color":"#777"},{"offset":0.4629,"color":"transparent"},
              {"offset":0.4754,"color":"transparent"},{"offset":0.4754,"color":"#777"},{"offset":0.4776,"color":"#777"},{"offset":0.4776,"color":"transparent"},
              {"offset":0.4901,"color":"transparent"},{"offset":0.4901,"color":"#777"},{"offset":0.4923,"color":"#777"},{"offset":0.4923,"color":"transparent"},
              {"offset":0.5048,"color":"transparent"},{"offset":0.5048,"color":"#777"},{"offset":0.5070,"color":"#777"},{"offset":0.5070,"color":"transparent"},
              {"offset":0.5195,"color":"transparent"},{"offset":0.5195,"color":"#777"},{"offset":0.5217,"color":"#777"},{"offset":0.5217,"color":"transparent"},
              {"offset":0.5342,"color":"transparent"},{"offset":0.5342,"color":"#777"},{"offset":0.5364,"color":"#777"},{"offset":0.5364,"color":"transparent"},
              {"offset":0.5489,"color":"transparent"},{"offset":0.5489,"color":"#777"},{"offset":0.5511,"color":"#777"},{"offset":0.5511,"color":"transparent"},
              {"offset":0.5636,"color":"transparent"},{"offset":0.5636,"color":"#777"},{"offset":0.5658,"color":"#777"},{"offset":0.5658,"color":"transparent"},
              {"offset":0.5783,"color":"transparent"},{"offset":0.5783,"color":"#777"},{"offset":0.5805,"color":"#777"},{"offset":0.5805,"color":"transparent"},
              {"offset":0.5930,"color":"transparent"},{"offset":0.5930,"color":"#777"},{"offset":0.5952,"color":"#777"},{"offset":0.5952,"color":"transparent"},
              {"offset":0.6077,"color":"transparent"},{"offset":0.6077,"color":"#777"},{"offset":0.6099,"color":"#777"},{"offset":0.6099,"color":"transparent"},
              {"offset":0.6224,"color":"transparent"},{"offset":0.6224,"color":"#777"},{"offset":0.6246,"color":"#777"},{"offset":0.6246,"color":"transparent"},
              {"offset":0.6371,"color":"transparent"},{"offset":0.6371,"color":"#777"},{"offset":0.6393,"color":"#777"},{"offset":0.6393,"color":"transparent"},
              {"offset":0.6518,"color":"transparent"},{"offset":0.6518,"color":"#777"},{"offset":0.6540,"color":"#777"},{"offset":0.6540,"color":"transparent"},
              {"offset":0.6665,"color":"transparent"},{"offset":0.6665,"color":"#777"},{"offset":0.6687,"color":"#777"},{"offset":0.6687,"color":"transparent"},
              {"offset":0.6812,"color":"transparent"},{"offset":0.6812,"color":"#777"},{"offset":0.6834,"color":"#777"},{"offset":0.6834,"color":"transparent"},
              {"offset":0.6959,"color":"transparent"},{"offset":0.6959,"color":"#777"},{"offset":0.6981,"color":"#777"},{"offset":0.6981,"color":"transparent"},
              {"offset":0.7106,"color":"transparent"},{"offset":0.7106,"color":"#777"},{"offset":0.7128,"color":"#777"},{"offset":0.7128,"color":"transparent"},
              {"offset":0.7253,"color":"transparent"},{"offset":0.7253,"color":"#777"},{"offset":0.7275,"color":"#777"},{"offset":0.7275,"color":"transparent"},
              {"offset":0.7400,"color":"transparent"},{"offset":0.7400,"color":"#777"},{"offset":0.7422,"color":"#777"},{"offset":0.7422,"color":"transparent"},
              {"offset":0.7547,"color":"transparent"},{"offset":0.7547,"color":"#777"},{"offset":0.7569,"color":"#777"},{"offset":0.7569,"color":"transparent"},
              {"offset":0.7694,"color":"transparent"},{"offset":0.7694,"color":"#777"},{"offset":0.7716,"color":"#777"},{"offset":0.7716,"color":"transparent"},
              {"offset":0.7841,"color":"transparent"},{"offset":0.7841,"color":"#777"},{"offset":0.7863,"color":"#777"},{"offset":0.7863,"color":"transparent"},
              {"offset":0.7988,"color":"transparent"},{"offset":0.7988,"color":"#777"},{"offset":0.8010,"color":"#777"},{"offset":0.8010,"color":"transparent"},
              {"offset":0.8135,"color":"transparent"},{"offset":0.8135,"color":"#777"},{"offset":0.8157,"color":"#777"},{"offset":0.8157,"color":"transparent"},
              {"offset":0.8282,"color":"transparent"},{"offset":0.8282,"color":"#777"},{"offset":0.8304,"color":"#777"},{"offset":0.8304,"color":"transparent"},
              {"offset":0.8429,"color":"transparent"},{"offset":0.8429,"color":"#777"},{"offset":0.8451,"color":"#777"},{"offset":0.8451,"color":"transparent"},
              {"offset":0.8576,"color":"transparent"},{"offset":0.8576,"color":"#777"},{"offset":0.8598,"color":"#777"},{"offset":0.8598,"color":"transparent"},
              {"offset":0.8723,"color":"transparent"},{"offset":0.8723,"color":"#777"},{"offset":0.8745,"color":"#777"},{"offset":0.8745,"color":"transparent"},
              {"offset":0.8870,"color":"transparent"},{"offset":0.8870,"color":"#777"},{"offset":0.8892,"color":"#777"},{"offset":0.8892,"color":"transparent"},
              {"offset":0.9017,"color":"transparent"},{"offset":0.9017,"color":"#777"},{"offset":0.9039,"color":"#777"},{"offset":0.9039,"color":"transparent"},
              {"offset":0.9164,"color":"transparent"},{"offset":0.9164,"color":"#777"},{"offset":0.9186,"color":"#777"},{"offset":0.9186,"color":"transparent"},
              {"offset":0.9311,"color":"transparent"},{"offset":0.9311,"color":"#777"},{"offset":0.9333,"color":"#777"},{"offset":0.9333,"color":"transparent"},
              {"offset":0.9458,"color":"transparent"},{"offset":0.9458,"color":"#777"},{"offset":0.9480,"color":"#777"},{"offset":0.9480,"color":"transparent"},
              {"offset":0.9605,"color":"transparent"},{"offset":0.9605,"color":"#777"},{"offset":0.9627,"color":"#777"},{"offset":0.9627,"color":"transparent"},
              {"offset":0.9752,"color":"transparent"},{"offset":0.9752,"color":"#777"},{"offset":0.9774,"color":"#777"},{"offset":0.9774,"color":"transparent"},
              {"offset":0.9899,"color":"transparent"},{"offset":0.9899,"color":"#777"},{"offset":0.9921,"color":"#777"},{"offset":0.9921,"color":"transparent"}
            ]}},
          "encoding": {
            "x": {"field": "edge", "type": "quantitative", "scale": {"domain": [-6, 6], "nice": false, "zero": false},
              "axis": {"orient": "bottom", "values": [-6,-5.5,-5,-4.5,-4,-3.5,-3,-2.5,-2,-1.5,-1,-0.5,0,0.5,1,1.5,2,2.5,3,3.5,4,4.5,5,5.5,6], "format": "d",
                "labelExpr": "datum.value % 2 === 0 ? datum.label : ''", "labelPadding": 20, "title": null,
                "tickSize": {"condition": {"test": "datum.value % 2 === 0", "value": -14}, "value": -7}}},
            "y": {"field": "rb_hi", "type": "quantitative", "scale": {"domain": [0.5, 2], "nice": false, "zero": false},
              "axis": {"orient": "left", "values": [0.5,0.55,0.6,0.65,0.7,0.75,0.8,0.85,0.9,0.95,1,1.05,1.1,1.15,1.2,1.25,1.3,1.35,1.4,1.45,1.5,1.55,1.6,1.65,1.7,1.75,1.8,1.85,1.9,1.95,2], "format": "~g",
                "labelExpr": "abs(datum.value * 5 - round(datum.value * 5)) < 0.01 ? datum.label : ''", "labelPadding": 59,
                "tickSize": {"condition": {"test": "abs(datum.value * 5 - round(datum.value * 5)) < 0.01", "value": -45}, "value": -22},
                "title": "Data/Pred.", "titleFontSize": 62, "titleAnchor": "end", "titlePadding": 55}},
            "y2": {"field": "rb_lo"}
          }
        },
        {
          "data": {"name": "one"},
          "mark": {"type": "rule", "color": "#808080", "strokeWidth": 5},
          "encoding": {"y": {"datum": 1, "type": "quantitative", "axis": null}}
        },
        {
          "data": {"name": "points"},
          "mark": {"type": "rule", "color": "#0b24b5", "strokeWidth": 3, "clip": true},
          "encoding": {
            "x": {"field": "x", "type": "quantitative", "axis": null},
            "y": {"field": "r_lo", "type": "quantitative", "axis": null},
            "y2": {"field": "r_hi"}
          }
        },
        {
          "data": {"name": "points"},
          "mark": {"type": "point", "shape": "circle", "filled": true, "size": 420, "color": "black", "opacity": 1},
          "encoding": {
            "x": {"field": "x", "type": "quantitative",
              "axis": {"orient": "top", "values": [-6,-5.5,-5,-4.5,-4,-3.5,-3,-2.5,-2,-1.5,-1,-0.5,0,0.5,1,1.5,2,2.5,3,3.5,4,4.5,5,5.5,6], "labels": false, "title": null,
                "tickSize": {"condition": {"test": "datum.value % 2 === 0", "value": -14}, "value": -7}}},
            "y": {"field": "r", "type": "quantitative",
              "axis": {"orient": "right", "values": [0.5,0.55,0.6,0.65,0.7,0.75,0.8,0.85,0.9,0.95,1,1.05,1.1,1.15,1.2,1.25,1.3,1.35,1.4,1.45,1.5,1.55,1.6,1.65,1.7,1.75,1.8,1.85,1.9,1.95,2], "labels": false, "title": null,
                "tickSize": {"condition": {"test": "abs(datum.value * 5 - round(datum.value * 5)) < 0.01", "value": -45}, "value": -22}}}
          }
        },
        {
          "data": {"name": "one"},
          "mark": {"type": "text", "text": "ΔY(", "font": "Liberation Serif", "fontSize": 124, "color": "#a64541", "align": "left", "baseline": "alphabetic"},
          "encoding": {"x": {"datum": 3.123, "type": "quantitative", "axis": null}, "y": {"datum": -0.2656, "type": "quantitative", "axis": null}}
        },
        {
          "data": {"name": "one"},
          "mark": {"type": "text", "text": "WZ", "font": "Liberation Serif", "fontStyle": "italic", "fontSize": 124, "color": "#a64541", "align": "left", "baseline": "alphabetic"},
          "encoding": {"x": {"datum": 4.55, "type": "quantitative", "axis": null}, "y": {"datum": -0.2656, "type": "quantitative", "axis": null}}
        },
        {
          "data": {"name": "one"},
          "mark": {"type": "text", "text": ")", "font": "Liberation Serif", "fontSize": 124, "color": "#a64541", "align": "left", "baseline": "alphabetic"},
          "encoding": {"x": {"datum": 5.72, "type": "quantitative", "axis": null}, "y": {"datum": -0.2656, "type": "quantitative", "axis": null}}
        }
      ],
      "resolve": {"axis": {"x": "independent", "y": "independent"}}
    }
  ],
  "config": {
    "view": {"stroke": "black", "strokeWidth": 4},
    "axis": {
      "grid": false,
      "domain": false,
      "labelFont": "Liberation Sans",
      "labelFontSize": 50,
      "labelColor": "black",
      "labelOverlap": false,
      "labelFlush": false,
      "titleFont": "Liberation Sans",
      "titleColor": "black",
      "titleFontWeight": "normal",
      "tickColor": "black",
      "tickWidth": 3.5
    }
  }
}
